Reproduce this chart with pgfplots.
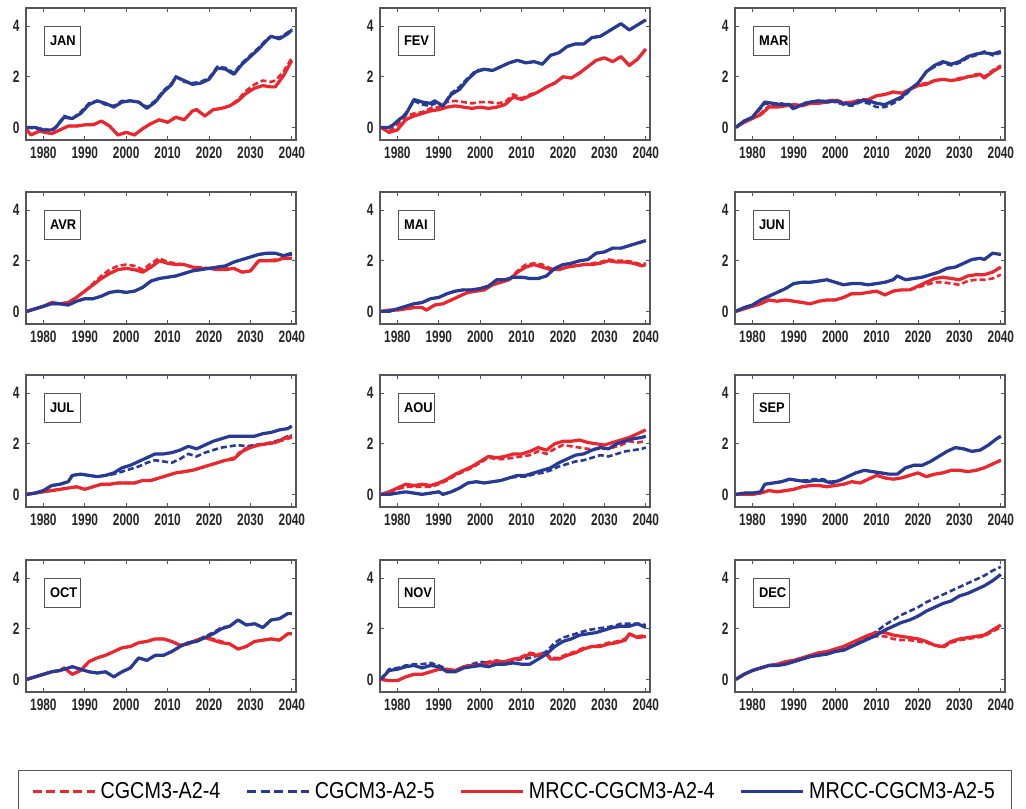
\documentclass[border=0pt]{standalone}
\usepackage{pgfplots}
\pgfplotsset{compat=1.18}
\usepackage{fontspec}
\setmainfont{Liberation Sans}
\newfontfamily\tickfont{Liberation Sans}[FakeStretch=0.72]
\newfontfamily\labfont{Liberation Sans}[FakeStretch=0.92]
\newfontfamily\legfont{Liberation Sans}[FakeStretch=0.86]

\definecolor{cred}{RGB}{236,38,45}
\definecolor{cblue}{RGB}{38,58,150}
\definecolor{frame}{RGB}{85,85,95}

\pgfplotsset{
  panel/.style={
    scale only axis, width=270pt, height=132pt, anchor=north west,
    xmin=1975.8, xmax=2041, ymin=-0.5, ymax=4.72,
    xtick={1980,1990,...,2040}, ytick={0,2,4},
    tick align=inside, major tick length=4pt,
    axis line style={frame, line width=1.1pt},
    tick style={frame, line width=0.9pt},
    /pgf/number format/1000 sep={},
    /pgf/number format/assume math mode=true,
    ticklabel style={font=\tickfont\bfseries\fontsize{16.5}{16.5}\selectfont, text=black!85},
    xticklabel style={yshift=-3pt},
    yticklabel style={xshift=-3pt},
  },
  rs/.style={cred, line width=3.2pt, line join=round},
  bs/.style={cblue, line width=3.2pt, line join=round},
  rd/.style={cred, line width=2.6pt, dash pattern=on 6pt off 3pt},
  bd/.style={cblue, line width=2.6pt, dash pattern=on 6pt off 3pt},
}
\tikzset{
  mbox/.style={draw=frame, line width=1.2pt, minimum width=36pt, minimum height=29pt,
    inner sep=0pt, anchor=north west},
  mtext/.style={anchor=west, inner sep=0pt, xshift=6pt,
    font=\labfont\bfseries\fontsize{14}{14}\selectfont},
}
\newcommand{\mlabel}[1]{\node[mbox, label={[mtext]west:#1}] at (rel axis cs:0.066,0.864) {};}

\begin{document}
\begin{tikzpicture}
\useasboundingbox (0pt,0pt) rectangle (1026pt,-809pt);

% ---------------- JAN ----------------
\begin{axis}[panel, at={(26pt,-8pt)}]
\addplot[rd] coordinates {(1976,-0.1) (1977,-0.3) (1979,-0.15) (1982,-0.25) (1984,-0.1) (1986,0.05) (1988,0.05) (1990,0.1) (1992,0.1) (1994,0.25) (1996,0.05) (1998,-0.3) (2000,-0.2) (2002,-0.3) (2004,-0.05) (2006,0.15) (2008,0.3) (2010,0.2) (2012,0.4) (2014,0.3) (2016,0.65) (2017,0.7) (2019,0.45) (2021,0.7) (2023,0.75) (2025,0.85) (2027,1.1) (2029,1.45) (2031,1.7) (2033,1.85) (2035,1.8) (2036,1.85) (2038,2.2) (2040,2.75)};
\addplot[bd] coordinates {(1976,0) (1978,-0.05) (1980,-0.05) (1982,-0.15) (1983,0) (1985,0.45) (1987,0.35) (1989,0.6) (1991,0.95) (1993,1.05) (1995,0.9) (1997,0.85) (1999,1.05) (2001,1.05) (2003,1.0) (2005,0.8) (2007,1.05) (2009,1.45) (2011,1.75) (2012,2.0) (2014,1.8) (2016,1.75) (2018,1.8) (2020,1.95) (2022,2.4) (2024,2.35) (2026,2.15) (2028,2.55) (2030,2.85) (2032,3.15) (2034,3.5) (2035,3.6) (2037,3.55) (2039,3.75) (2040,3.9)};
\addplot[rs] coordinates {(1976,-0.1) (1977,-0.3) (1979,-0.15) (1982,-0.25) (1984,-0.1) (1986,0.05) (1988,0.05) (1990,0.1) (1992,0.1) (1994,0.25) (1996,0.05) (1998,-0.3) (2000,-0.2) (2002,-0.3) (2004,-0.05) (2006,0.15) (2008,0.3) (2010,0.2) (2012,0.4) (2014,0.3) (2016,0.65) (2017,0.7) (2019,0.45) (2021,0.7) (2023,0.75) (2025,0.85) (2027,1.05) (2029,1.35) (2031,1.55) (2033,1.65) (2035,1.6) (2036,1.6) (2038,2.05) (2040,2.65)};
\addplot[bs] coordinates {(1976,0) (1978,0) (1980,-0.1) (1982,-0.1) (1983,0) (1985,0.4) (1987,0.35) (1989,0.55) (1991,0.9) (1993,1.05) (1995,0.95) (1997,0.8) (1999,1.0) (2001,1.05) (2003,1.0) (2005,0.75) (2007,1.0) (2009,1.4) (2011,1.7) (2012,2.0) (2014,1.85) (2016,1.7) (2018,1.75) (2020,1.9) (2022,2.35) (2024,2.3) (2026,2.1) (2028,2.5) (2030,2.8) (2032,3.1) (2034,3.45) (2035,3.6) (2037,3.5) (2039,3.7) (2040,3.85)};
\mlabel{JAN}
\end{axis}

% ---------------- FEV ----------------
\begin{axis}[panel, at={(380pt,-8pt)}]
\addplot[rd] coordinates {(1976,0) (1978,-0.15) (1980,0.1) (1982,0.45) (1984,0.55) (1986,0.6) (1988,0.75) (1990,0.8) (1992,1.0) (1994,1.05) (1996,1.0) (1998,0.95) (2000,1.0) (2002,1.0) (2004,0.95) (2006,1.0) (2008,1.3) (2010,1.15) (2012,1.3) (2014,1.4) (2016,1.6) (2018,1.75) (2020,2.0) (2022,1.95) (2024,2.15) (2026,2.4) (2028,2.65) (2030,2.75) (2032,2.6) (2034,2.8) (2036,2.45) (2038,2.7) (2040,3.1)};
\addplot[bd] coordinates {(1976,0) (1978,0) (1979,0.1) (1980,0.25) (1982,0.55) (1984,1.05) (1986,0.9) (1988,0.85) (1989,0.95) (1991,0.85) (1993,1.35) (1995,1.6) (1997,1.95) (1999,2.25) (2001,2.3) (2003,2.25) (2005,2.4) (2007,2.55) (2009,2.65) (2011,2.55) (2013,2.6) (2015,2.5) (2017,2.85) (2019,2.95) (2021,3.2) (2023,3.3) (2025,3.3) (2027,3.55) (2029,3.6) (2031,3.8) (2033,4.0) (2034,4.1) (2036,3.85) (2038,4.05) (2040,4.25)};
\addplot[rs] coordinates {(1976,0) (1978,-0.2) (1980,-0.1) (1982,0.3) (1984,0.45) (1986,0.55) (1988,0.65) (1990,0.7) (1992,0.8) (1994,0.85) (1996,0.8) (1998,0.75) (2000,0.8) (2002,0.75) (2004,0.8) (2006,0.9) (2008,1.2) (2010,1.1) (2012,1.25) (2014,1.4) (2016,1.6) (2018,1.75) (2020,2.0) (2022,1.95) (2024,2.15) (2026,2.4) (2028,2.65) (2030,2.75) (2032,2.6) (2034,2.8) (2036,2.45) (2038,2.7) (2040,3.1)};
\addplot[bs] coordinates {(1976,0) (1978,0) (1979,0.1) (1980,0.25) (1982,0.5) (1984,1.1) (1986,1.0) (1988,0.95) (1989,1.05) (1991,0.85) (1993,1.3) (1995,1.5) (1997,1.9) (1999,2.2) (2001,2.3) (2003,2.25) (2005,2.4) (2007,2.55) (2009,2.65) (2011,2.55) (2013,2.6) (2015,2.5) (2017,2.85) (2019,2.95) (2021,3.2) (2023,3.3) (2025,3.3) (2027,3.55) (2029,3.6) (2031,3.8) (2033,4.0) (2034,4.1) (2036,3.85) (2038,4.05) (2040,4.25)};
\mlabel{FEV}
\end{axis}

% ---------------- MAR ----------------
\begin{axis}[panel, at={(735pt,-8pt)}]
\addplot[rd] coordinates {(1976,0) (1978,0.25) (1980,0.35) (1982,0.55) (1984,0.85) (1986,0.85) (1988,0.9) (1990,0.9) (1992,0.9) (1994,1.0) (1996,0.95) (1998,1.05) (2000,1.1) (2002,1.0) (2004,1.0) (2006,1.1) (2008,1.1) (2010,1.25) (2012,1.3) (2014,1.4) (2016,1.35) (2018,1.5) (2020,1.7) (2022,1.75) (2024,1.85) (2026,1.9) (2028,1.85) (2030,1.95) (2032,2.0) (2034,2.1) (2035,2.1) (2036,2.0) (2038,2.25) (2040,2.45)};
\addplot[bd] coordinates {(1976,0) (1978,0.25) (1980,0.4) (1982,0.75) (1983,0.95) (1985,0.9) (1987,0.95) (1989,0.85) (1990,0.7) (1992,0.95) (1994,1.0) (1996,1.05) (1998,1.05) (2000,1.0) (2002,0.9) (2004,0.85) (2006,1.0) (2008,0.95) (2010,0.8) (2012,0.8) (2014,0.95) (2016,1.15) (2018,1.45) (2020,1.75) (2022,2.2) (2024,2.4) (2026,2.55) (2028,2.45) (2030,2.55) (2032,2.75) (2034,2.85) (2036,3.0) (2038,2.85) (2040,2.95)};
\addplot[rs] coordinates {(1976,0) (1978,0.2) (1980,0.35) (1982,0.5) (1984,0.8) (1986,0.8) (1988,0.85) (1990,0.9) (1992,0.85) (1994,0.95) (1996,0.95) (1998,1.0) (2000,1.05) (2002,0.95) (2004,1.0) (2006,1.05) (2008,1.1) (2010,1.25) (2012,1.3) (2014,1.4) (2016,1.35) (2018,1.5) (2020,1.65) (2022,1.7) (2024,1.85) (2026,1.9) (2028,1.85) (2030,1.9) (2032,2.0) (2034,2.05) (2035,2.1) (2036,1.95) (2038,2.2) (2040,2.4)};
\addplot[bs] coordinates {(1976,0) (1978,0.25) (1980,0.4) (1982,0.8) (1983,1.0) (1985,0.95) (1987,0.9) (1989,0.9) (1990,0.75) (1992,0.9) (1994,1.0) (1996,1.05) (1998,1.0) (2000,1.05) (2002,0.95) (2004,0.9) (2006,1.05) (2008,1.05) (2010,0.95) (2012,0.9) (2014,1.05) (2016,1.2) (2018,1.5) (2020,1.75) (2022,2.2) (2024,2.45) (2026,2.6) (2028,2.5) (2030,2.6) (2032,2.8) (2034,2.9) (2036,2.95) (2038,2.9) (2040,3.0)};
\mlabel{MAR}
\end{axis}

% ---------------- AVR ----------------
\begin{axis}[panel, at={(26pt,-192pt)}]
\addplot[rd] coordinates {(1976,0) (1978,0.1) (1980,0.2) (1982,0.35) (1984,0.3) (1986,0.35) (1988,0.55) (1990,0.8) (1992,1.1) (1994,1.4) (1996,1.65) (1998,1.8) (2000,1.85) (2002,1.8) (2004,1.65) (2006,1.9) (2008,2.1) (2010,1.95) (2012,1.9) (2014,1.85) (2016,1.75) (2018,1.75) (2020,1.7) (2022,1.65) (2024,1.7) (2026,1.7) (2028,1.55) (2030,1.6) (2032,2.0) (2034,2.0) (2036,2.05) (2038,2.1) (2040,2.1)};
\addplot[bd] coordinates {(1976,0) (1978,0.1) (1980,0.2) (1982,0.3) (1984,0.3) (1986,0.25) (1988,0.4) (1990,0.5) (1992,0.5) (1994,0.6) (1996,0.75) (1998,0.8) (2000,0.75) (2002,0.8) (2004,0.95) (2006,1.2) (2008,1.3) (2010,1.35) (2012,1.4) (2014,1.5) (2016,1.6) (2018,1.65) (2020,1.7) (2022,1.75) (2024,1.8) (2026,1.95) (2028,2.05) (2030,2.15) (2032,2.25) (2034,2.3) (2036,2.3) (2038,2.2) (2040,2.25)};
\addplot[rs] coordinates {(1976,0) (1978,0.1) (1980,0.2) (1982,0.35) (1984,0.3) (1986,0.35) (1988,0.55) (1990,0.8) (1992,1.05) (1994,1.3) (1996,1.5) (1998,1.65) (2000,1.7) (2002,1.65) (2004,1.55) (2006,1.75) (2008,2.0) (2010,1.9) (2012,1.85) (2014,1.85) (2016,1.75) (2018,1.7) (2020,1.7) (2022,1.65) (2024,1.65) (2026,1.7) (2028,1.55) (2030,1.6) (2032,2.0) (2034,2.0) (2036,2.0) (2038,2.1) (2040,2.1)};
\addplot[bs] coordinates {(1976,0) (1978,0.1) (1980,0.2) (1982,0.3) (1984,0.3) (1986,0.25) (1988,0.4) (1990,0.5) (1992,0.5) (1994,0.6) (1996,0.75) (1998,0.8) (2000,0.75) (2002,0.8) (2004,0.95) (2006,1.2) (2008,1.3) (2010,1.35) (2012,1.4) (2014,1.5) (2016,1.6) (2018,1.65) (2020,1.7) (2022,1.75) (2024,1.8) (2026,1.95) (2028,2.05) (2030,2.15) (2032,2.25) (2034,2.3) (2036,2.3) (2038,2.2) (2040,2.3)};
\mlabel{AVR}
\end{axis}

% ---------------- MAI ----------------
\begin{axis}[panel, at={(380pt,-192pt)}]
\addplot[rd] coordinates {(1976,0) (1978,0.05) (1980,0.05) (1982,0.1) (1984,0.15) (1986,0.15) (1987,0.05) (1989,0.25) (1991,0.3) (1993,0.45) (1995,0.6) (1997,0.75) (1999,0.8) (2001,0.85) (2003,1.05) (2005,1.15) (2007,1.25) (2009,1.6) (2011,1.85) (2013,1.9) (2015,1.85) (2017,1.7) (2019,1.65) (2021,1.75) (2023,1.8) (2025,1.85) (2027,1.9) (2029,1.95) (2031,2.05) (2033,2.0) (2035,2.0) (2037,1.95) (2039,1.85) (2040,1.9)};
\addplot[bd] coordinates {(1976,0) (1978,0.0) (1980,0.1) (1982,0.2) (1984,0.3) (1986,0.35) (1988,0.5) (1990,0.55) (1992,0.7) (1994,0.8) (1996,0.85) (1998,0.85) (2000,0.9) (2002,1.0) (2004,1.25) (2006,1.25) (2008,1.35) (2010,1.35) (2012,1.3) (2014,1.3) (2016,1.4) (2018,1.7) (2020,1.85) (2022,1.9) (2024,2.0) (2026,2.05) (2028,2.3) (2030,2.35) (2032,2.5) (2034,2.5) (2036,2.6) (2038,2.7) (2040,2.8)};
\addplot[rs] coordinates {(1976,0) (1978,0.05) (1980,0.05) (1982,0.1) (1984,0.15) (1986,0.15) (1987,0.05) (1989,0.25) (1991,0.3) (1993,0.45) (1995,0.6) (1997,0.75) (1999,0.8) (2001,0.85) (2003,1.05) (2005,1.15) (2007,1.25) (2009,1.55) (2011,1.75) (2013,1.85) (2015,1.75) (2017,1.65) (2019,1.65) (2021,1.75) (2023,1.8) (2025,1.85) (2027,1.85) (2029,1.9) (2031,2.0) (2033,1.95) (2035,1.95) (2037,1.9) (2039,1.8) (2040,1.85)};
\addplot[bs] coordinates {(1976,0) (1978,0.0) (1980,0.1) (1982,0.2) (1984,0.3) (1986,0.35) (1988,0.5) (1990,0.55) (1992,0.7) (1994,0.8) (1996,0.85) (1998,0.85) (2000,0.9) (2002,1.0) (2004,1.25) (2006,1.25) (2008,1.35) (2010,1.35) (2012,1.3) (2014,1.3) (2016,1.4) (2018,1.7) (2020,1.85) (2022,1.9) (2024,2.0) (2026,2.05) (2028,2.3) (2030,2.35) (2032,2.5) (2034,2.5) (2036,2.6) (2038,2.7) (2040,2.8)};
\mlabel{MAI}
\end{axis}

% ---------------- JUN ----------------
\begin{axis}[panel, at={(735pt,-192pt)}]
\addplot[rd] coordinates {(1976,0) (1978,0.1) (1980,0.2) (1982,0.3) (1984,0.45) (1986,0.4) (1988,0.45) (1990,0.4) (1992,0.35) (1994,0.3) (1996,0.4) (1998,0.45) (2000,0.45) (2002,0.55) (2004,0.7) (2006,0.7) (2008,0.75) (2010,0.8) (2012,0.65) (2014,0.8) (2016,0.85) (2018,0.85) (2020,0.95) (2022,1.05) (2024,1.15) (2026,1.15) (2028,1.1) (2030,1.05) (2032,1.2) (2034,1.25) (2036,1.25) (2038,1.3) (2040,1.45)};
\addplot[bd] coordinates {(1976,0) (1978,0.15) (1980,0.25) (1982,0.45) (1984,0.6) (1986,0.75) (1988,0.9) (1990,1.1) (1992,1.15) (1994,1.15) (1996,1.2) (1998,1.25) (2000,1.15) (2002,1.05) (2004,1.1) (2006,1.1) (2008,1.05) (2010,1.1) (2012,1.15) (2014,1.25) (2015,1.4) (2017,1.25) (2019,1.3) (2021,1.35) (2023,1.45) (2025,1.55) (2027,1.7) (2029,1.75) (2031,1.9) (2033,2.05) (2035,2.1) (2036,2.05) (2038,2.3) (2040,2.25)};
\addplot[rs] coordinates {(1976,0) (1978,0.1) (1980,0.2) (1982,0.3) (1984,0.45) (1986,0.4) (1988,0.45) (1990,0.4) (1992,0.35) (1994,0.3) (1996,0.4) (1998,0.45) (2000,0.45) (2002,0.55) (2004,0.7) (2006,0.7) (2008,0.75) (2010,0.8) (2012,0.65) (2014,0.8) (2016,0.85) (2018,0.85) (2020,1.0) (2022,1.15) (2024,1.3) (2026,1.35) (2028,1.3) (2030,1.25) (2032,1.4) (2034,1.45) (2036,1.45) (2038,1.55) (2040,1.75)};
\addplot[bs] coordinates {(1976,0) (1978,0.15) (1980,0.25) (1982,0.45) (1984,0.6) (1986,0.75) (1988,0.9) (1990,1.1) (1992,1.15) (1994,1.15) (1996,1.2) (1998,1.25) (2000,1.15) (2002,1.05) (2004,1.1) (2006,1.1) (2008,1.05) (2010,1.1) (2012,1.15) (2014,1.25) (2015,1.4) (2017,1.25) (2019,1.3) (2021,1.35) (2023,1.45) (2025,1.55) (2027,1.7) (2029,1.75) (2031,1.9) (2033,2.05) (2035,2.1) (2036,2.05) (2038,2.3) (2040,2.25)};
\mlabel{JUN}
\end{axis}

% ---------------- JUL ----------------
\begin{axis}[panel, at={(26pt,-375pt)}]
\addplot[rd] coordinates {(1976,0) (1978,0.05) (1980,0.1) (1982,0.15) (1984,0.2) (1986,0.25) (1988,0.3) (1990,0.2) (1992,0.3) (1994,0.4) (1996,0.4) (1998,0.45) (2000,0.45) (2002,0.45) (2004,0.55) (2006,0.55) (2008,0.65) (2010,0.75) (2012,0.85) (2014,0.9) (2016,0.95) (2018,1.05) (2020,1.15) (2022,1.25) (2024,1.35) (2026,1.45) (2028,1.75) (2030,1.9) (2032,1.95) (2034,2.0) (2036,2.05) (2038,2.15) (2040,2.25)};
\addplot[bd] coordinates {(1976,0) (1978,0.05) (1980,0.15) (1982,0.35) (1984,0.4) (1986,0.5) (1987,0.75) (1989,0.8) (1991,0.75) (1993,0.7) (1995,0.75) (1997,0.8) (1999,0.9) (2001,1.0) (2003,1.1) (2005,1.25) (2007,1.35) (2009,1.3) (2011,1.25) (2013,1.4) (2015,1.6) (2017,1.5) (2019,1.65) (2021,1.75) (2023,1.85) (2025,1.9) (2027,1.95) (2029,1.9) (2031,1.95) (2033,2.0) (2035,2.05) (2037,2.15) (2039,2.3) (2040,2.35)};
\addplot[rs] coordinates {(1976,0) (1978,0.05) (1980,0.1) (1982,0.15) (1984,0.2) (1986,0.25) (1988,0.3) (1990,0.2) (1992,0.3) (1994,0.4) (1996,0.4) (1998,0.45) (2000,0.45) (2002,0.45) (2004,0.55) (2006,0.55) (2008,0.65) (2010,0.75) (2012,0.85) (2014,0.9) (2016,0.95) (2018,1.05) (2020,1.15) (2022,1.25) (2024,1.35) (2026,1.4) (2028,1.7) (2030,1.85) (2032,1.95) (2034,2.0) (2036,2.05) (2038,2.2) (2040,2.3)};
\addplot[bs] coordinates {(1976,0) (1978,0.05) (1980,0.15) (1982,0.35) (1984,0.4) (1986,0.5) (1987,0.75) (1989,0.8) (1991,0.75) (1993,0.7) (1995,0.75) (1997,0.85) (1999,1.05) (2001,1.15) (2003,1.3) (2005,1.45) (2007,1.6) (2009,1.6) (2011,1.65) (2013,1.75) (2015,1.9) (2017,1.8) (2019,1.95) (2021,2.1) (2023,2.2) (2025,2.3) (2027,2.3) (2029,2.3) (2031,2.3) (2033,2.4) (2035,2.45) (2037,2.55) (2039,2.6) (2040,2.7)};
\mlabel{JUL}
\end{axis}

% ---------------- AOU ----------------
\begin{axis}[panel, at={(380pt,-375pt)}]
\addplot[rd] coordinates {(1976,0) (1978,0.1) (1980,0.2) (1982,0.3) (1984,0.3) (1986,0.3) (1988,0.3) (1990,0.4) (1992,0.55) (1994,0.75) (1996,0.9) (1998,1.05) (2000,1.25) (2002,1.45) (2004,1.4) (2006,1.4) (2008,1.45) (2010,1.5) (2012,1.55) (2014,1.7) (2016,1.6) (2018,1.8) (2020,1.95) (2022,1.9) (2024,1.85) (2026,1.8) (2028,1.8) (2030,1.8) (2032,1.85) (2034,1.95) (2036,2.1) (2038,2.05) (2040,2.1)};
\addplot[bd] coordinates {(1976,0) (1978,0.0) (1980,0.05) (1982,0.1) (1984,0.05) (1986,0.0) (1988,0.05) (1990,0.1) (1991,0.0) (1993,0.1) (1995,0.25) (1997,0.45) (1999,0.5) (2001,0.45) (2003,0.5) (2005,0.55) (2007,0.65) (2009,0.7) (2011,0.7) (2013,0.8) (2015,0.85) (2017,0.95) (2019,1.1) (2021,1.2) (2023,1.3) (2025,1.35) (2027,1.45) (2029,1.55) (2031,1.5) (2033,1.6) (2035,1.7) (2037,1.75) (2039,1.8) (2040,1.85)};
\addplot[rs] coordinates {(1976,0) (1978,0.1) (1980,0.25) (1982,0.4) (1984,0.35) (1986,0.4) (1988,0.35) (1990,0.45) (1992,0.6) (1994,0.8) (1996,0.95) (1998,1.1) (2000,1.3) (2002,1.5) (2004,1.45) (2006,1.5) (2008,1.6) (2010,1.6) (2012,1.7) (2014,1.85) (2016,1.75) (2018,2.0) (2020,2.1) (2022,2.1) (2024,2.15) (2026,2.05) (2028,2.0) (2030,1.95) (2032,2.05) (2034,2.15) (2036,2.25) (2038,2.4) (2040,2.55)};
\addplot[bs] coordinates {(1976,0) (1978,0.0) (1980,0.05) (1982,0.1) (1984,0.05) (1986,0.0) (1988,0.05) (1990,0.1) (1991,0.0) (1993,0.1) (1995,0.25) (1997,0.45) (1999,0.5) (2001,0.45) (2003,0.5) (2005,0.55) (2007,0.65) (2009,0.75) (2011,0.75) (2013,0.85) (2015,0.95) (2017,1.05) (2019,1.25) (2021,1.4) (2023,1.55) (2025,1.6) (2027,1.75) (2029,1.85) (2031,1.8) (2033,2.0) (2035,2.1) (2037,2.2) (2039,2.25) (2040,2.3)};
\mlabel{AOU}
\end{axis}

% ---------------- SEP ----------------
\begin{axis}[panel, at={(735pt,-375pt)}]
\addplot[rd] coordinates {(1976,0) (1978,0) (1980,0) (1982,0.05) (1984,0.15) (1986,0.1) (1988,0.15) (1990,0.2) (1992,0.3) (1994,0.35) (1996,0.35) (1998,0.3) (2000,0.35) (2002,0.4) (2004,0.5) (2006,0.45) (2008,0.6) (2010,0.75) (2012,0.65) (2014,0.6) (2016,0.65) (2018,0.75) (2020,0.85) (2022,0.7) (2024,0.8) (2026,0.85) (2028,0.95) (2030,0.95) (2032,0.9) (2034,0.95) (2036,1.05) (2038,1.2) (2040,1.35)};
\addplot[bd] coordinates {(1976,0) (1978,0.05) (1980,0.05) (1982,0.1) (1983,0.4) (1985,0.45) (1987,0.5) (1989,0.6) (1991,0.55) (1993,0.55) (1995,0.6) (1997,0.6) (1999,0.5) (2001,0.55) (2003,0.7) (2005,0.85) (2007,0.95) (2009,0.9) (2011,0.85) (2013,0.8) (2015,0.8) (2017,1.05) (2019,1.15) (2021,1.15) (2023,1.3) (2025,1.5) (2027,1.7) (2029,1.85) (2031,1.8) (2033,1.7) (2035,1.75) (2037,1.95) (2039,2.2) (2040,2.3)};
\addplot[rs] coordinates {(1976,0) (1978,0) (1980,0) (1982,0.05) (1984,0.15) (1986,0.1) (1988,0.15) (1990,0.2) (1992,0.3) (1994,0.35) (1996,0.35) (1998,0.3) (2000,0.35) (2002,0.4) (2004,0.5) (2006,0.45) (2008,0.6) (2010,0.75) (2012,0.65) (2014,0.6) (2016,0.65) (2018,0.75) (2020,0.85) (2022,0.7) (2024,0.8) (2026,0.85) (2028,0.95) (2030,0.95) (2032,0.9) (2034,0.95) (2036,1.05) (2038,1.2) (2040,1.35)};
\addplot[bs] coordinates {(1976,0) (1978,0.05) (1980,0.05) (1982,0.1) (1983,0.4) (1985,0.45) (1987,0.5) (1989,0.6) (1991,0.55) (1993,0.5) (1995,0.55) (1997,0.55) (1999,0.45) (2001,0.55) (2003,0.7) (2005,0.85) (2007,0.95) (2009,0.9) (2011,0.85) (2013,0.8) (2015,0.8) (2017,1.05) (2019,1.15) (2021,1.15) (2023,1.3) (2025,1.5) (2027,1.7) (2029,1.85) (2031,1.8) (2033,1.7) (2035,1.75) (2037,1.95) (2039,2.2) (2040,2.3)};
\mlabel{SEP}
\end{axis}

% ---------------- OCT ----------------
\begin{axis}[panel, at={(26pt,-560pt)}]
\addplot[rd] coordinates {(1976,0) (1978,0.1) (1980,0.2) (1982,0.3) (1984,0.35) (1985,0.45) (1987,0.2) (1989,0.35) (1991,0.7) (1993,0.85) (1995,0.95) (1997,1.1) (1999,1.25) (2001,1.3) (2003,1.45) (2005,1.5) (2007,1.6) (2009,1.6) (2011,1.5) (2013,1.35) (2015,1.4) (2017,1.55) (2019,1.65) (2021,1.6) (2023,1.5) (2025,1.4) (2027,1.2) (2029,1.3) (2031,1.5) (2033,1.55) (2035,1.6) (2037,1.55) (2039,1.8) (2040,1.8)};
\addplot[bd] coordinates {(1976,0) (1978,0.1) (1980,0.2) (1982,0.3) (1984,0.35) (1986,0.45) (1987,0.5) (1989,0.4) (1991,0.3) (1993,0.25) (1995,0.3) (1997,0.1) (1999,0.3) (2001,0.45) (2003,0.85) (2005,0.75) (2007,0.95) (2009,0.95) (2011,1.1) (2013,1.3) (2015,1.45) (2017,1.55) (2019,1.7) (2021,1.85) (2023,2.05) (2025,2.1) (2027,2.35) (2029,2.15) (2031,2.2) (2033,2.05) (2035,2.35) (2037,2.4) (2039,2.6) (2040,2.6)};
\addplot[rs] coordinates {(1976,0) (1978,0.1) (1980,0.2) (1982,0.3) (1984,0.35) (1985,0.45) (1987,0.2) (1989,0.35) (1991,0.7) (1993,0.85) (1995,0.95) (1997,1.1) (1999,1.25) (2001,1.3) (2003,1.45) (2005,1.5) (2007,1.6) (2009,1.6) (2011,1.5) (2013,1.35) (2015,1.4) (2017,1.55) (2019,1.65) (2021,1.55) (2023,1.45) (2025,1.4) (2027,1.2) (2029,1.3) (2031,1.5) (2033,1.55) (2035,1.6) (2037,1.55) (2039,1.8) (2040,1.8)};
\addplot[bs] coordinates {(1976,0) (1978,0.1) (1980,0.2) (1982,0.3) (1984,0.35) (1986,0.45) (1987,0.5) (1989,0.4) (1991,0.3) (1993,0.25) (1995,0.3) (1997,0.1) (1999,0.3) (2001,0.45) (2003,0.85) (2005,0.75) (2007,0.95) (2009,0.95) (2011,1.1) (2013,1.3) (2015,1.45) (2017,1.5) (2019,1.65) (2021,1.8) (2023,2.0) (2025,2.1) (2027,2.35) (2029,2.15) (2031,2.2) (2033,2.05) (2035,2.35) (2037,2.4) (2039,2.6) (2040,2.6)};
\mlabel{OCT}
\end{axis}

% ---------------- NOV (carries the legend) ----------------
\begin{axis}[panel, at={(380pt,-560pt)},
  legend columns=4,
  legend image code/.code={\draw[#1] (0pt,0pt) -- (62pt,0pt);},
  legend style={at={(0.5,-0.591)}, anchor=north, draw=frame, line width=1.1pt,
    font=\legfont\fontsize{23}{23}\selectfont, inner xsep=13pt, inner ysep=8pt,
    nodes={inner xsep=4pt, inner ysep=4pt},
    /tikz/every even column/.append style={column sep=21pt}}]
% legend keys: bolder strokes and longer dashes than the curves
\addlegendimage{cred, line width=3.4pt, dash pattern=on 9pt off 4.5pt}
\addlegendentry{CGCM3-A2-4}
\addlegendimage{cblue, line width=3.4pt, dash pattern=on 9pt off 4.5pt}
\addlegendentry{CGCM3-A2-5}
\addlegendimage{cred, line width=3.4pt}
\addlegendentry{MRCC-CGCM3-A2-4}
\addlegendimage{cblue, line width=3.4pt}
\addlegendentry{MRCC-CGCM3-A2-5}
\addplot[rd] coordinates {(1976,0) (1978,-0.05) (1980,-0.05) (1982,0.1) (1984,0.2) (1986,0.2) (1988,0.3) (1990,0.4) (1992,0.4) (1994,0.35) (1996,0.5) (1998,0.55) (2000,0.6) (2002,0.7) (2004,0.75) (2006,0.7) (2008,0.8) (2010,0.9) (2012,1.05) (2014,1.0) (2016,1.05) (2017,0.85) (2019,0.85) (2021,1.0) (2023,1.1) (2025,1.25) (2027,1.3) (2029,1.35) (2031,1.45) (2033,1.5) (2035,1.6) (2036,1.8) (2038,1.7) (2040,1.75)};
\addplot[bd] coordinates {(1976,0) (1978,0.4) (1980,0.45) (1982,0.55) (1984,0.6) (1986,0.6) (1988,0.65) (1990,0.55) (1992,0.4) (1994,0.35) (1996,0.5) (1998,0.6) (2000,0.7) (2002,0.65) (2004,0.7) (2006,0.7) (2008,0.75) (2010,0.8) (2012,0.85) (2014,0.95) (2016,1.1) (2018,1.45) (2020,1.65) (2022,1.75) (2024,1.85) (2026,1.95) (2028,2.0) (2030,2.05) (2032,2.1) (2034,2.2) (2036,2.2) (2038,2.2) (2040,2.15)};
\addplot[rs] coordinates {(1976,0) (1978,-0.05) (1980,-0.05) (1982,0.1) (1984,0.2) (1986,0.2) (1988,0.3) (1990,0.4) (1992,0.4) (1994,0.35) (1996,0.5) (1998,0.55) (2000,0.55) (2002,0.65) (2004,0.7) (2006,0.7) (2008,0.8) (2010,0.85) (2012,1.0) (2014,0.95) (2016,1.0) (2017,0.8) (2019,0.8) (2021,0.95) (2023,1.05) (2025,1.2) (2027,1.3) (2029,1.3) (2031,1.4) (2033,1.45) (2035,1.55) (2036,1.8) (2038,1.65) (2040,1.7)};
\addplot[bs] coordinates {(1976,0) (1978,0.35) (1980,0.4) (1982,0.5) (1984,0.55) (1986,0.45) (1988,0.55) (1990,0.5) (1992,0.3) (1994,0.3) (1996,0.45) (1998,0.5) (2000,0.55) (2002,0.5) (2004,0.6) (2006,0.6) (2008,0.65) (2010,0.6) (2012,0.6) (2014,0.8) (2016,1.0) (2018,1.3) (2020,1.5) (2022,1.6) (2024,1.75) (2026,1.8) (2028,1.85) (2030,1.95) (2032,2.05) (2034,2.1) (2036,2.1) (2038,2.2) (2040,2.05)};
\mlabel{NOV}
\end{axis}

% ---------------- DEC ----------------
\begin{axis}[panel, at={(735pt,-560pt)}]
\addplot[rd] coordinates {(1976,0) (1978,0.2) (1980,0.35) (1982,0.45) (1984,0.55) (1986,0.6) (1988,0.7) (1990,0.75) (1992,0.85) (1994,0.95) (1996,1.05) (1998,1.1) (2000,1.2) (2002,1.3) (2004,1.45) (2006,1.55) (2008,1.65) (2010,1.7) (2012,1.7) (2014,1.6) (2016,1.55) (2018,1.55) (2020,1.5) (2022,1.45) (2024,1.35) (2026,1.25) (2028,1.45) (2030,1.55) (2032,1.6) (2034,1.65) (2036,1.7) (2038,1.9) (2040,2.05)};
\addplot[bd] coordinates {(1976,0) (1978,0.2) (1980,0.35) (1982,0.45) (1984,0.55) (1986,0.55) (1988,0.6) (1990,0.7) (1992,0.8) (1994,0.9) (1996,0.95) (1998,1.0) (2000,1.1) (2002,1.2) (2004,1.35) (2006,1.5) (2008,1.7) (2010,1.9) (2012,2.15) (2014,2.35) (2016,2.55) (2018,2.7) (2020,2.85) (2022,3.05) (2024,3.2) (2026,3.35) (2028,3.5) (2030,3.65) (2032,3.8) (2034,3.95) (2036,4.1) (2038,4.3) (2040,4.45)};
\addplot[rs] coordinates {(1976,0) (1978,0.2) (1980,0.35) (1982,0.45) (1984,0.55) (1986,0.6) (1988,0.7) (1990,0.75) (1992,0.85) (1994,0.95) (1996,1.05) (1998,1.1) (2000,1.2) (2002,1.3) (2004,1.45) (2006,1.6) (2008,1.75) (2010,1.85) (2012,1.85) (2014,1.75) (2016,1.7) (2018,1.65) (2020,1.6) (2022,1.5) (2024,1.35) (2026,1.3) (2028,1.5) (2030,1.6) (2032,1.65) (2034,1.7) (2036,1.75) (2038,1.95) (2040,2.15)};
\addplot[bs] coordinates {(1976,0) (1978,0.2) (1980,0.35) (1982,0.45) (1984,0.55) (1986,0.55) (1988,0.6) (1990,0.7) (1992,0.8) (1994,0.9) (1996,0.95) (1998,1.0) (2000,1.1) (2002,1.15) (2004,1.3) (2006,1.45) (2008,1.6) (2010,1.75) (2012,1.95) (2014,2.1) (2016,2.25) (2018,2.35) (2020,2.5) (2022,2.7) (2024,2.85) (2026,3.0) (2028,3.1) (2030,3.3) (2032,3.4) (2034,3.55) (2036,3.7) (2038,3.9) (2040,4.15)};
\mlabel{DEC}
\end{axis}
\end{tikzpicture}
\end{document}
